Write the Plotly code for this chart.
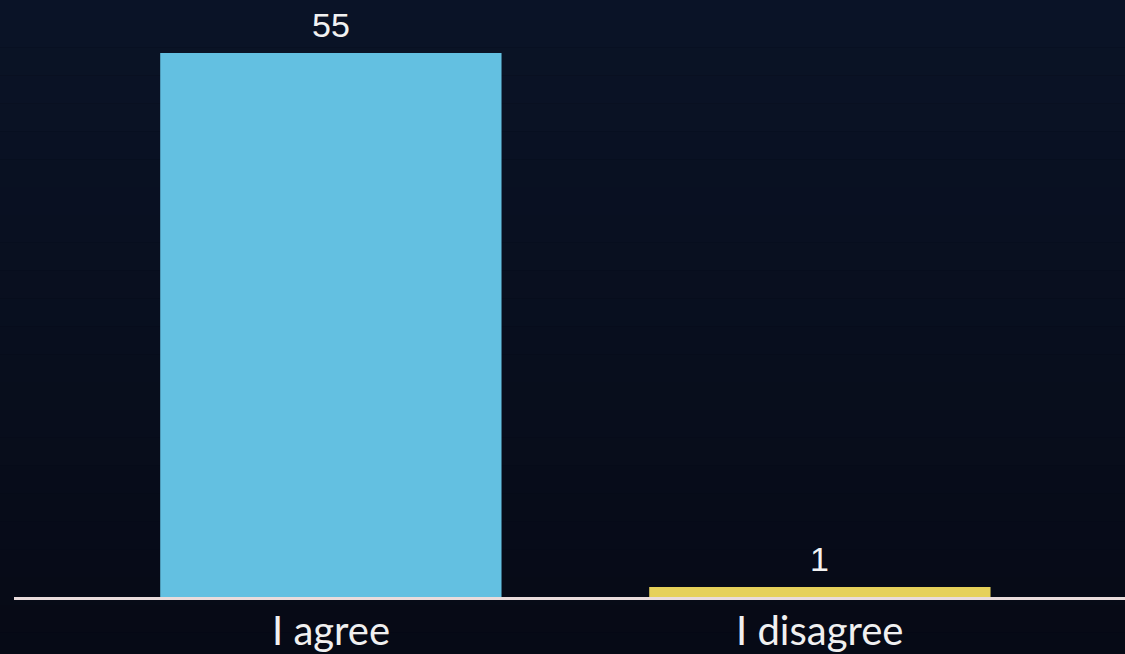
import plotly.graph_objects as go

categories = ["I agree", "I disagree"]
values = [55, 1]
bar_colors = ["#63C0E1", "#E6D15A"]

W, H = 1125, 654
fig = go.Figure()

fig.add_trace(go.Bar(
    x=categories, y=values,
    marker=dict(color=bar_colors, line=dict(width=0)),
    width=0.698,
    hoverinfo="skip",
))

for c, v in zip(categories, values):
    fig.add_annotation(
        x=c, y=v, text=str(v), showarrow=False,
        xref="x", yref="y", yanchor="bottom", yshift=7,
        font=dict(family="Liberation Sans, Arial, sans-serif", size=34, color="#F2F2F2"),
    )
    # category label below the baseline
    fig.add_annotation(
        x=c, y=0, text=c, showarrow=False,
        xref="x", yref="y", yanchor="middle", yshift=-33,
        font=dict(family="Lato, Liberation Sans, sans-serif", size=40, color="#F0F0F0"),
    )

# subtle vertical background gradient
n = 30
top = (11, 21, 42)
bot = (6, 9, 20)
for i in range(n):
    t = i / (n - 1)
    col = tuple(int(round(top[k] + (bot[k] - top[k]) * t)) for k in range(3))
    fig.add_shape(type="rect", xref="paper", yref="paper",
                  x0=-0.05, x1=1.05, y0=1.2 - (i + 1) * 1.4 / n, y1=1.2 - i * 1.4 / n,
                  fillcolor="rgb(%d,%d,%d)" % col, line=dict(width=0), layer="below")

fig.update_layout(
    width=W, height=H,
    margin=dict(l=14, r=0, t=0, b=57, autoexpand=False),
    paper_bgcolor="#070b18",
    plot_bgcolor="rgba(0,0,0,0)",
    showlegend=False,
    xaxis=dict(
        range=[-0.648, 1.624],
        automargin=False,
        showline=True, linecolor="#E9DCDC", linewidth=3,
        showgrid=False, zeroline=False, ticks="",
        showticklabels=False,
    ),
    yaxis=dict(range=[0, 60.36], visible=False, fixedrange=True, automargin=False),
)

fig.write_html("out.html",
               config={"displayModeBar": False},
               post_script="document.body.style.margin='0';document.body.style.background='#070b18';")
